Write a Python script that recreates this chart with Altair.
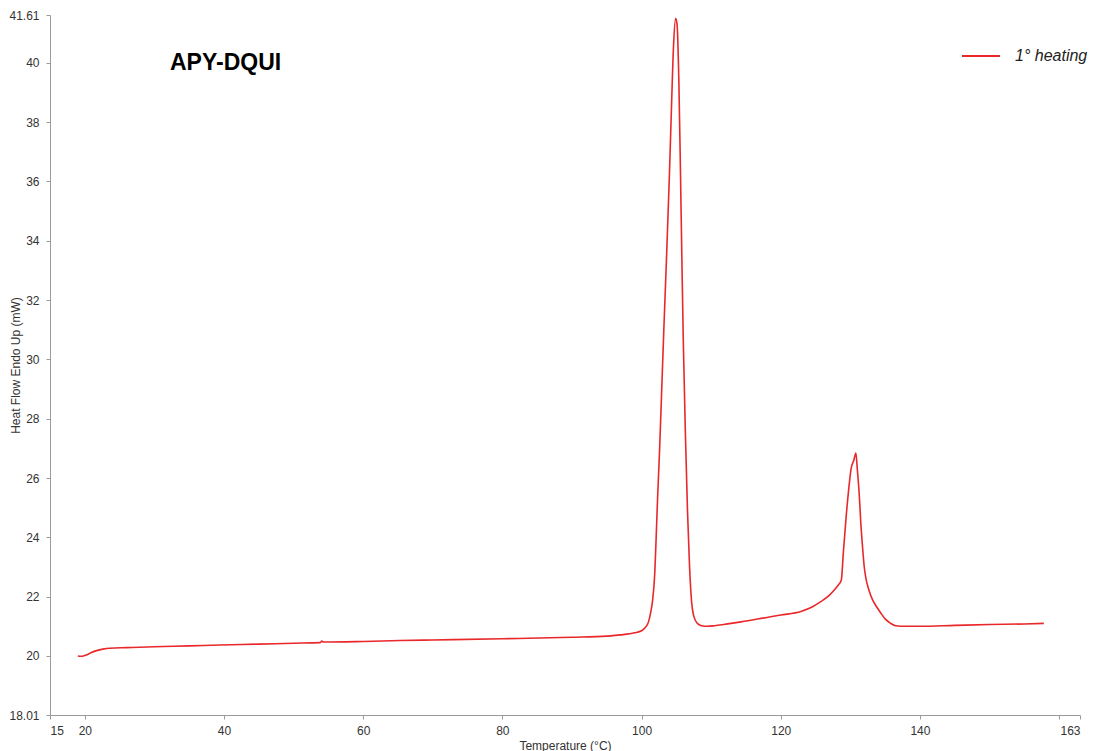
import altair as alt
import pandas as pd

# Temperature (°C)
temperature = [
    19.0, 19.4, 19.8, 20.2, 20.8, 21.7, 22.6, 23.6, 26.0, 30.0, 35.0, 39.4, 45.0, 50.0,
    53.8, 54.05, 54.3, 60.0, 65.3, 70.0, 80.0, 90.0, 95.0, 97.0, 99.0, 100.0, 100.5,
    101.0, 101.3, 101.6, 101.9, 102.1, 102.3, 102.6, 102.9, 103.2, 103.6, 104.0, 104.3,
    104.6, 104.9, 105.1, 105.35, 105.6, 105.8, 106.0, 106.3, 106.6, 106.9, 107.2, 107.5,
    108.0, 108.5, 109.5, 110.5, 112.0, 114.3, 118.0, 120.0, 122.9, 124.5, 125.75, 127.0,
    127.7, 128.3, 128.7, 129.0, 129.4, 129.8, 130.1, 130.5, 130.8, 131.0, 131.3, 131.5,
    131.75, 132.0, 132.2, 132.7, 133.2, 133.8, 134.4, 135.0, 135.8, 136.5, 138.0, 140.0,
    145.0, 150.0, 155.0, 157.8,
]
# Heat flow (mW)
heat_flow = [
    20.0, 19.99, 20.0, 20.03, 20.1, 20.18, 20.23, 20.26, 20.28, 20.31, 20.34, 20.37, 20.4, 20.43,
    20.45, 20.5, 20.47, 20.49, 20.52, 20.54, 20.58, 20.63, 20.67, 20.71, 20.78, 20.85, 20.95,
    21.15, 21.45, 21.9, 22.8, 24.0, 25.3, 27.0, 29.0, 31.0, 33.5, 36.2, 38.5,
    40.6, 41.5, 41.3, 39.5, 36.2, 33.3, 30.6, 27.5, 24.9, 23.0, 21.8, 21.35,
    21.1, 21.03, 21.0, 21.02, 21.07, 21.15, 21.3, 21.38, 21.5, 21.65, 21.83, 22.05,
    22.23, 22.4, 22.55, 23.5, 24.7, 25.7, 26.3, 26.6, 26.84, 26.3, 25.37, 24.5,
    23.69, 23.0, 22.67, 22.2, 21.89, 21.65, 21.44, 21.25, 21.1, 21.02, 21.0, 21.0,
    21.03, 21.06, 21.08, 21.1,
]
series_name = "1° heating"
x_ticks = [15, 20, 40, 60, 80, 100, 120, 140, 160, 163]
y_ticks = [18.01, 20, 22, 24, 26, 28, 30, 32, 34, 36, 38, 40, 41.61]
x_domain = [15, 163]
y_domain = [18.01, 41.61]
sample_label = "APY-DQUI"

df = pd.DataFrame({"T": temperature, "HF": heat_flow, "series": series_name})
RED = "#e8282b"
FONT = "Liberation Sans"

line = alt.Chart(df).mark_line(strokeWidth=1.6, interpolate="monotone").encode(
    x=alt.X(
        "T:Q",
        scale=alt.Scale(domain=x_domain, nice=False, zero=False),
        axis=alt.Axis(
            title="Temperature (°C)",
            values=x_ticks,
            format="d",
            labelExpr="datum.value == 160 ? '' : datum.label",
            titleX=515,
            titleY=30,
            titleBaseline="middle",
            titleAlign="center",
            labelPadding=6,
        ),
    ),
    y=alt.Y(
        "HF:Q",
        scale=alt.Scale(domain=y_domain, nice=False, zero=False),
        axis=alt.Axis(
            title="Heat Flow Endo Up (mW)",
            values=y_ticks,
            format=".2~f",
            titleX=-35,
            titleY=350,
            titleAngle=270,
            titleAlign="center",
            titleBaseline="middle",
            labelPadding=7,
        ),
    ),
    color=alt.Color(
        "series:N",
        scale=alt.Scale(domain=[series_name], range=[RED]),
        legend=alt.Legend(
            title=None,
            orient="none",
            legendX=911,
            legendY=21,
            symbolType="stroke",
            symbolSize=1444,
            symbolStrokeWidth=2,
            labelOffset=14,
            labelFontSize=16,
            labelFontStyle="italic",
            labelFont=FONT,
            labelColor="#222222",
            padding=0,
        ),
    ),
)

title_text = alt.Chart(pd.DataFrame({"t": [sample_label]})).mark_text(
    align="left",
    baseline="alphabetic",
    font=FONT,
    fontSize=23,
    fontWeight="bold",
    color="#000000",
).encode(text="t:N", x=alt.value(120), y=alt.value(55))

chart = (
    alt.layer(line, title_text)
    .properties(
        width=1030,
        height=700,
        autosize=alt.AutoSizeParams(type="none"),
        padding={"left": 42, "top": 7, "right": 12, "bottom": 36},
        background="white",
    )
    .configure_view(stroke=None)
    .configure_axis(
        grid=False,
        domainColor="#9a9a9a",
        tickColor="#9a9a9a",
        tickSize=4,
        labelColor="#333333",
        labelFont=FONT,
        labelFontSize=12,
        titleColor="#333333",
        titleFont=FONT,
        titleFontSize=12,
        titleFontWeight="normal",
    )
)

chart.save("out.html", embed_options={"renderer": "svg", "actions": False})
